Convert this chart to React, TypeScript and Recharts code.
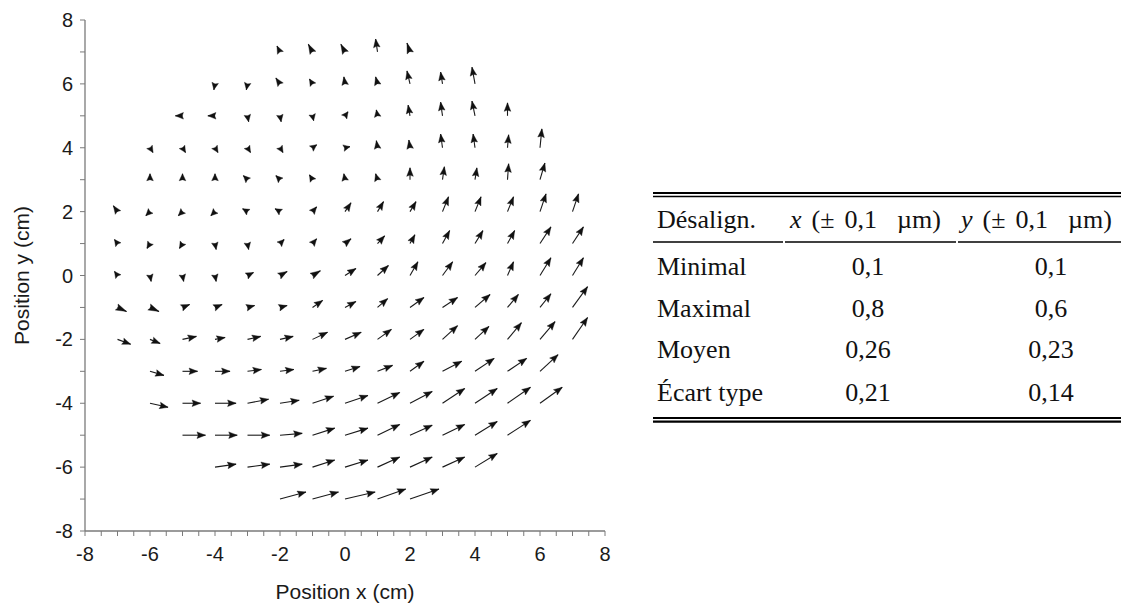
import React from 'react';
import { ScatterChart, Scatter, XAxis, YAxis } from 'recharts';

// Grid rows (cm) and first x position (cm) of each row
const rowYs = [7, 6, 5, 4, 3, 2, 1, 0, -1, -2, -3, -4, -5, -6, -7];
const rowXStart = [-2, -4, -5, -6, -6, -7, -7, -7, -7, -7, -6, -6, -5, -4, -2];

// Misalignment vectors [dx, dy] in µm, read left to right along each row
const dY7 = [[-0.08, 0.16], [-0.11, 0.21], [-0.11, 0.21], [-0.05, 0.35], [-0.08, 0.24]];
const dY6 = [[-0.03, -0.16], [-0.03, -0.16], [-0.11, 0.16], [-0.08, 0.13], [-0.03, 0.19], [-0.05, 0.19], [-0.08, 0.35], [-0.05, 0.32], [-0.08, 0.45]];
const dY5 = [[-0.19, 0], [-0.19, 0], [0.03, -0.16], [0.03, -0.16], [0.03, -0.13], [0.08, 0.11], [-0.03, 0.16], [-0.05, 0.29], [-0.05, 0.37], [-0.08, 0.4], [0, 0.35]];
const dY4 = [[0.08, -0.13], [0.08, -0.13], [0.08, -0.13], [0.08, -0.13], [0.08, -0.13], [0.11, 0.08], [0.13, 0.03], [-0.03, 0.19], [-0.03, 0.21], [-0.05, 0.37], [-0.05, 0.37], [0.03, 0.35], [0.05, 0.51]];
const dY3 = [[0, 0.16], [0, 0.16], [0, 0.16], [-0.11, 0.11], [-0.11, 0.11], [-0.08, 0.13], [-0.03, 0.16], [-0.05, 0.16], [0, 0.32], [0.05, 0.35], [0.05, 0.32], [0.03, 0.43], [0.13, 0.45]];
const dY2 = [[-0.11, 0.16], [-0.11, -0.11], [-0.11, -0.11], [-0.11, -0.11], [-0.13, 0.08], [-0.13, 0.08], [0.11, 0.13], [0.16, 0.24], [0.16, 0.27], [0.16, 0.27], [0.16, 0.4], [0.16, 0.4], [0.16, 0.4], [0.16, 0.48], [0.16, 0.48]];
const dY1 = [[-0.08, 0.11], [-0.08, -0.13], [-0.08, -0.13], [0.03, -0.16], [0.03, -0.16], [0.11, 0.11], [0.11, 0.13], [0.16, 0.13], [0.19, 0.21], [0.13, 0.24], [0.19, 0.35], [0.21, 0.35], [0.19, 0.35], [0.29, 0.45], [0.29, 0.45]];
const dY0 = [[-0.08, 0.11], [0.03, -0.16], [0.03, -0.16], [0.03, -0.16], [0.16, 0.08], [0.19, 0.11], [0.21, 0.13], [0.29, 0.19], [0.29, 0.27], [0.21, 0.37], [0.27, 0.37], [0.29, 0.35], [0.16, 0.37], [0.29, 0.48], [0.29, 0.48]];
const dYm1 = [[0.24, -0.11], [0.24, -0.11], [0.19, 0.08], [0.19, 0.08], [0.19, 0.05], [0.19, 0.05], [0.27, 0.19], [0.29, 0.16], [0.27, 0.24], [0.37, 0.27], [0.4, 0.27], [0.4, 0.35], [0.29, 0.35], [0.29, 0.37], [0.4, 0.56]];
const dYm2 = [[0.35, -0.13], [0.27, -0.11], [0.37, 0.08], [0.27, 0.05], [0.35, 0.08], [0.35, 0.08], [0.4, 0.19], [0.43, 0.19], [0.37, 0.27], [0.37, 0.27], [0.4, 0.37], [0.37, 0.35], [0.37, 0.45], [0.4, 0.48], [0.4, 0.59]];
const dYm3 = [[0.37, -0.11], [0.4, 0], [0.4, 0], [0.37, 0.05], [0.37, 0.05], [0.37, 0.08], [0.4, 0.13], [0.4, 0.16], [0.37, 0.27], [0.51, 0.27], [0.51, 0.35], [0.51, 0.35], [0.48, 0.45]];
const dYm4 = [[0.48, -0.11], [0.48, 0], [0.56, 0], [0.56, 0.11], [0.51, 0.08], [0.56, 0.19], [0.61, 0.21], [0.59, 0.29], [0.59, 0.32], [0.59, 0.4], [0.59, 0.4], [0.61, 0.43], [0.59, 0.43]];
const dYm5 = [[0.61, 0], [0.59, 0], [0.59, 0], [0.59, 0.05], [0.59, 0.19], [0.61, 0.19], [0.59, 0.29], [0.59, 0.27], [0.59, 0.29], [0.59, 0.37], [0.61, 0.4]];
const dYm6 = [[0.56, 0.08], [0.59, 0.08], [0.59, 0.08], [0.59, 0.19], [0.61, 0.19], [0.59, 0.27], [0.59, 0.27], [0.59, 0.27], [0.59, 0.37]];
const dYm7 = [[0.69, 0.19], [0.69, 0.19], [0.8, 0.19], [0.75, 0.27], [0.77, 0.27]];
const rowVectors = [dY7, dY6, dY5, dY4, dY3, dY2, dY1, dY0, dYm1, dYm2, dYm3, dYm4, dYm5, dYm6, dYm7];

// Axis ticks
const xTicks = [-8, -7.5, -7, -6.5, -6, -5.5, -5, -4.5, -4, -3.5, -3, -2.5, -2, -1.5, -1, -0.5, 0, 0.5, 1, 1.5, 2, 2.5, 3, 3.5, 4, 4.5, 5, 5.5, 6, 6.5, 7, 7.5, 8];
const yTicks = [-8, -7, -6, -5, -4, -3, -2, -1, 0, 1, 2, 3, 4, 5, 6, 7, 8];
const labelledTicks = [-8, -6, -4, -2, 0, 2, 4, 6, 8];

// Table content
const tableHeadLabel = 'Désalign.';
const tableHeadVars = ['x', 'y'];
const tableRowLabels = ['Minimal', 'Maximal', 'Moyen', 'Écart type'];
const tableXValues = ['0,1', '0,8', '0,26', '0,21'];
const tableYValues = ['0,1', '0,6', '0,23', '0,14'];

// quiver scale: plot cm per µm of misalignment
const QUIVER_SCALE = 1.16;
const PX_PER_CM = 32.2; // only used to size arrow heads

const arrows: { key: string; data: any[] }[] = [];
rowYs.forEach((y, i) => {
  rowVectors[i].forEach(([u, v], j) => {
    const x = rowXStart[i] + j;
    arrows.push({
      key: `${x}_${y}`,
      data: [
        { x, y, u, v, head: false },
        { x: x + u * QUIVER_SCALE, y: y + v * QUIVER_SCALE, u, v, head: true },
      ],
    });
  });
});

const ArrowHead = (props: any) => {
  const { cx, cy, payload } = props;
  if (!payload || !payload.head || cx == null || cy == null) return <g />;
  const dx = payload.u * QUIVER_SCALE * PX_PER_CM;
  const dy = -payload.v * QUIVER_SCALE * PX_PER_CM;
  const len = Math.hypot(dx, dy);
  if (len < 0.01) return <g />;
  const ux = dx / len;
  const uy = dy / len;
  const L = len >= 10 ? 8.5 : Math.max(6.5, len + 1);
  const W = 3.3;
  const A = L * 0.85;
  const bx = cx - ux * L;
  const by = cy - uy * L;
  const nx = cx - ux * A;
  const ny = cy - uy * A;
  const px = -uy;
  const py = ux;
  const pts = [
    [cx, cy],
    [bx + px * W, by + py * W],
    [nx, ny],
    [bx - px * W, by - py * W],
  ]
    .map((p) => `${p[0].toFixed(2)},${p[1].toFixed(2)}`)
    .join(' ');
  return <polygon points={pts} fill="#111" stroke="#111" strokeWidth={0.4} />;
};

const tickFmt = (v: number) => (labelledTicks.includes(v) ? String(v) : '');

const AXIS_FONT = "'Liberation Sans', Arial, Helvetica, sans-serif";

const XTitle = (props: any) => {
  const vb = props.viewBox || {};
  return (
    <text
      x={vb.x + vb.width / 2}
      y={vb.y + 68}
      textAnchor="middle"
      fontSize={21}
      fontFamily={AXIS_FONT}
      fill="#1a1a1a"
    >
      Position x (cm)
    </text>
  );
};

const YTitle = (props: any) => {
  const vb = props.viewBox || {};
  const cx = vb.x + 13;
  const cy = vb.y + vb.height / 2;
  return (
    <text
      x={cx}
      y={cy}
      transform={`rotate(-90 ${cx} ${cy})`}
      textAnchor="middle"
      dominantBaseline="central"
      fontSize={21}
      fontFamily={AXIS_FONT}
      fill="#1a1a1a"
    >
      Position y (cm)
    </text>
  );
};

const SERIF = "'Liberation Serif', 'Times New Roman', serif";

const HeadUnit = ({ x, y, v }: { x: number; y: number; v: string }) => (
  <text x={x} y={y}>
    <tspan fontStyle="italic">{v}</tspan>
    <tspan dx={10}>(±</tspan>
    <tspan dx={10}>0,1</tspan>
    <tspan dx={20}>µm)</tspan>
  </text>
);

const Table = () => {
  const left = 645;
  const right = 1115;
  const rowBase = [267, 308.5, 350, 392.5];
  return (
    <svg
      width={1113}
      height={602}
      style={{ position: 'absolute', left: 0, top: 0, pointerEvents: 'none' }}
    >
      <g fontFamily={SERIF} fontSize={26} fill="#111">
        <line x1={left} x2={right} y1={185} y2={185} stroke="#000" strokeWidth={2.2} />
        <line x1={left} x2={right} y1={188.5} y2={188.5} stroke="#000" strokeWidth={1.7} />
        <text x={649} y={220}>{tableHeadLabel}</text>
        <HeadUnit x={782} y={220} v={tableHeadVars[0]} />
        <HeadUnit x={953} y={220} v={tableHeadVars[1]} />
        <line x1={left} x2={775} y1={234} y2={234} stroke="#000" strokeWidth={1.5} />
        <line x1={777} x2={948} y1={234} y2={234} stroke="#000" strokeWidth={1.5} />
        <line x1={950} x2={right} y1={234} y2={234} stroke="#000" strokeWidth={1.5} />
        {tableRowLabels.map((lab, i) => (
          <g key={lab}>
            <text x={649} y={rowBase[i]}>{lab}</text>
            <text x={860} y={rowBase[i]} textAnchor="middle">{tableXValues[i]}</text>
            <text x={1043} y={rowBase[i]} textAnchor="middle">{tableYValues[i]}</text>
          </g>
        ))}
        <line x1={left} x2={right} y1={410} y2={410} stroke="#000" strokeWidth={1.8} />
        <line x1={left} x2={right} y1={413.6} y2={413.6} stroke="#000" strokeWidth={2.2} />
      </g>
    </svg>
  );
};

export default function App() {
  return (
    <div style={{ position: 'relative', width: 1113, height: 602, fontFamily: AXIS_FONT, background: '#fff' }}>
      <div style={{ position: 'absolute', left: 0, top: 0 }}>
        <ScatterChart width={620} height={602} margin={{ top: 12, right: 23, bottom: 8, left: 0 }}>
          <XAxis
            type="number"
            dataKey="x"
            domain={[-8, 8]}
            ticks={xTicks}
            interval={0}
            tickFormatter={tickFmt}
            allowDataOverflow
            height={71}
            axisLine={{ stroke: '#7a7a7a', strokeWidth: 1.3 }}
            tickLine={{ stroke: '#7a7a7a' }}
            tickSize={5}
            tickMargin={11}
            tick={{ fill: '#1a1a1a', fontSize: 20, fontFamily: AXIS_FONT }}
            label={XTitle}
          />
          <YAxis
            type="number"
            dataKey="y"
            domain={[-8, 8]}
            ticks={yTicks}
            interval={0}
            tickFormatter={tickFmt}
            allowDataOverflow
            width={77}
            axisLine={{ stroke: '#7a7a7a', strokeWidth: 1.3 }}
            tickLine={{ stroke: '#7a7a7a' }}
            tickSize={5}
            tickMargin={7}
            tick={{ fill: '#1a1a1a', fontSize: 20, fontFamily: AXIS_FONT }}
            label={YTitle}
          />
          {arrows.map((a) => (
            <Scatter
              key={a.key}
              data={a.data}
              line={{ stroke: '#1a1a1a', strokeWidth: 1.1 }}
              shape={ArrowHead}
              isAnimationActive={false}
              legendType="none"
            />
          ))}
        </ScatterChart>
      </div>
      <Table />
    </div>
  );
}
